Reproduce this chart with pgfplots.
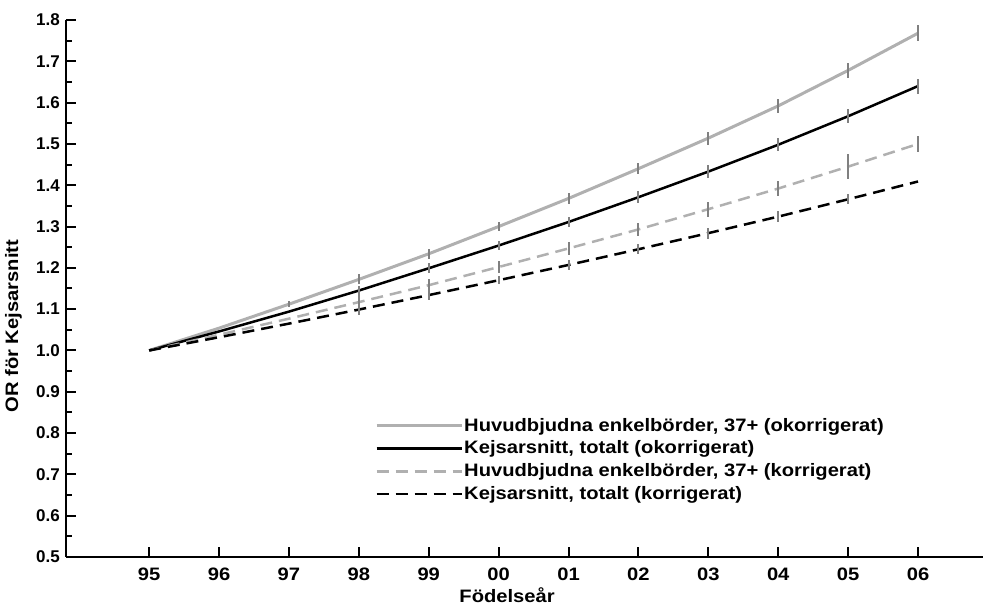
\documentclass[border=0pt]{standalone}
\usepackage{fontspec}
\setmainfont{Liberation Sans}[FakeStretch=1.12]
\newfontfamily\plainsans{Liberation Sans}
\usepackage{pgfplots}
\pgfplotsset{compat=1.18}
\definecolor{lgray}{RGB}{176,176,176}
\definecolor{egray}{RGB}{128,128,128}

\begin{document}
\fontsize{18}{21}\selectfont\bfseries
\begin{tikzpicture}
\useasboundingbox (0,0) rectangle (983pt,608pt);
\begin{axis}[
    at={(66pt,51pt)}, anchor=south west,
    scale only axis, width=917pt, height=537pt,
    xmin=-1.19, xmax=11.93, ymin=0.5, ymax=1.8,
    axis lines*=left,
    axis line style={line width=2.5pt},
    xtick={0,1,2,3,4,5,6,7,8,9,10,11},
    xticklabels={95,96,97,98,99,00,01,02,03,04,05,06},
    ytick={0.5,0.6,0.7,0.8,0.9,1.0,1.1,1.2,1.3,1.4,1.5,1.6,1.7,1.8},
    minor y tick num=1,
    tick align=inside,
    major tick length=10pt, minor tick length=6pt,
    tick style={line width=2pt, black},
    xticklabel style={font=\fontsize{18}{21}\selectfont\bfseries, yshift=-5pt},
    yticklabel style={font=\plainsans\fontsize{17}{20}\selectfont\bfseries,
        /pgf/number format/.cd, fixed, fixed zerofill, precision=1, assume math mode=true},
    xlabel={Födelseår},
    ylabel={OR för Kejsarsnitt},
    label style={font=\fontsize{18}{21}\selectfont\bfseries},
    xlabel style={at={(ticklabel cs:0.481)}, anchor=north, yshift=5pt},
    ylabel style={at={(ticklabel cs:0.43)}, yshift=2pt},
    legend style={draw=none, fill=none, at={(0.337,0.261)}, anchor=north west,
        inner sep=0pt, row sep=5pt, font=\fontsize{18}{21}\selectfont\bfseries,
        nodes={inner sep=1pt}},
    legend cell align=left,
    legend image code/.code={\draw[#1] (0pt,0pt) -- (85pt,0pt);},
    error bars/y dir=both, error bars/y explicit,
    error bars/error mark=none,
    error bars/error bar style={egray, line width=2pt, solid},
]

% Huvudbjudna enkelborder, 37+ (okorrigerat)
\addplot[lgray, line width=3pt, mark=none] coordinates {
    (0,1.000) +- (0,0)
    (1,1.054) +- (0,0)
    (2,1.112) +- (0,0.008)
    (3,1.172) +- (0,0.012)
    (4,1.234) +- (0,0.012)
    (5,1.300) +- (0,0.012)
    (6,1.368) +- (0,0.013)
    (7,1.440) +- (0,0.014)
    (8,1.514) +- (0,0.016)
    (9,1.592) +- (0,0.017)
    (10,1.678) +- (0,0.018)
    (11,1.768) +- (0,0.019)
};
\addlegendentry{Huvudbjudna enkelbörder, 37+ (okorrigerat)}

% Kejsarsnitt, totalt (okorrigerat)
\addplot[black, line width=2.5pt, mark=none] coordinates {
    (0,1.000) +- (0,0)
    (1,1.046) +- (0,0)
    (2,1.094) +- (0,0)
    (3,1.145) +- (0,0.012)
    (4,1.199) +- (0,0.012)
    (5,1.254) +- (0,0.012)
    (6,1.311) +- (0,0.013)
    (7,1.371) +- (0,0.014)
    (8,1.433) +- (0,0.015)
    (9,1.498) +- (0,0.016)
    (10,1.567) +- (0,0.017)
    (11,1.640) +- (0,0.018)
};
\addlegendentry{Kejsarsnitt, totalt (okorrigerat)}

% Huvudbjudna enkelborder, 37+ (korrigerat)
\addplot[lgray, line width=2.5pt, dash pattern=on 12pt off 7pt, mark=none] coordinates {
    (0,1.000) +- (0,0)
    (1,1.038) +- (0,0)
    (2,1.077) +- (0,0)
    (3,1.117) +- (0,0.015)
    (4,1.158) +- (0,0.015)
    (5,1.202) +- (0,0.015)
    (6,1.247) +- (0,0.015)
    (7,1.293) +- (0,0.016)
    (8,1.342) +- (0,0.018)
    (9,1.392) +- (0,0.018)
    (10,1.445) +- (0,0.030)
    (11,1.500) +- (0,0.020)
};
\addlegendentry{Huvudbjudna enkelbörder, 37+ (korrigerat)}

% Kejsarsnitt, totalt (korrigerat)
\addplot[black, line width=2.5pt, dash pattern=on 12pt off 7pt, mark=none] coordinates {
    (0,1.000) +- (0,0)
    (1,1.032) +- (0,0)
    (2,1.065) +- (0,0)
    (3,1.099) +- (0,0.012)
    (4,1.134) +- (0,0.012)
    (5,1.170) +- (0,0.010)
    (6,1.207) +- (0,0.012)
    (7,1.245) +- (0,0.012)
    (8,1.284) +- (0,0.013)
    (9,1.324) +- (0,0.013)
    (10,1.366) +- (0,0.012)
    (11,1.409) +- (0,0)
};
\addlegendentry{Kejsarsnitt, totalt (korrigerat)}

\end{axis}
\end{tikzpicture}
\end{document}
